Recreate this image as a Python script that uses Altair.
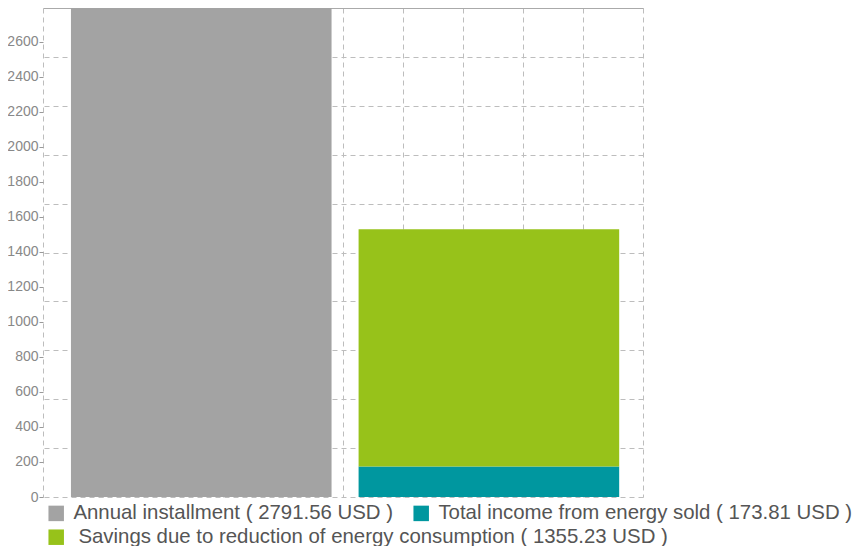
import altair as alt
import pandas as pd

# --- data ---
bars = ["Cost", "Benefit", "Benefit"]
series = ["Annual installment", "Total income from energy sold",
          "Savings due to reduction of energy consumption"]
values = [2791.56, 173.81, 1355.23]
stack_order = [0, 0, 1]
legend_row = [1, 1, 2]
colors = ["#a3a3a3", "#00979f", "#97c21a"]
y_ticks = list(range(0, 2800, 200))

labels = [f"{s} ( {v:.2f} USD )" for s, v in zip(series, values)]
df = pd.DataFrame({"bar": bars, "label": labels, "value": values,
                   "order": stack_order, "row": legend_row})
ymax = max(values[0], values[1] + values[2])

grid_df = pd.DataFrame({"gx": [0], "gy": [0]})
grid_vals = list(range(0, 11))
grid_color = "#bdbdbd"
dash = [5, 4]

grid = alt.Chart(grid_df).mark_point(opacity=0).encode(
    x=alt.X("gx:Q", scale=alt.Scale(domain=[0, 10], nice=False),
            axis=alt.Axis(orient="bottom", values=grid_vals, labels=False, ticks=False,
                          domain=False, title=None, grid=True, gridColor=grid_color,
                          gridDash=dash, gridWidth=1)),
    y=alt.Y("gy:Q", scale=alt.Scale(domain=[0, 10], nice=False),
            axis=alt.Axis(orient="right", values=grid_vals, labels=False, ticks=False,
                          domain=False, title=None, grid=True, gridColor=grid_color,
                          gridDash=dash, gridWidth=1)),
)

base = alt.Chart(df).transform_stack(
    stack="value", groupby=["bar"], as_=["y0", "y1"], sort=[alt.SortField("order")]
)

xenc = alt.X("bar:N", sort=["Cost", "Benefit"],
             scale=alt.Scale(paddingInner=0.094, paddingOuter=0.09, align=0.54),
             axis=alt.Axis(labels=False, ticks=False, title=None, domain=True,
                           domainColor="#aaaaaa", grid=False))
yenc = alt.Y("y0:Q", scale=alt.Scale(domain=[0, ymax], nice=False),
             axis=alt.Axis(values=y_ticks, format="d", title=None, grid=False, domain=False,
                           tickSize=4, tickColor="#999999", labelColor="#888888",
                           labelFontSize=14, labelPadding=1, labelFont="Liberation Sans"))


def legend(y, offset):
    return alt.Legend(title=None, orient="none", legendX=3, legendY=y,
                      direction="horizontal", symbolType="square", symbolSize=240,
                      symbolStrokeWidth=0, labelFontSize=20.4, labelFont="Liberation Sans",
                      labelColor="#555555", labelOffset=offset, columnPadding=17,
                      labelLimit=800)


layers = []
for r, ly, off in [(1, 495, 7), (2, 519, 12)]:
    lab = [l for l, rr in zip(labels, legend_row) if rr == r]
    col = [c for c, rr in zip(colors, legend_row) if rr == r]
    layers.append(
        base.transform_filter(alt.datum.row == r).mark_bar().encode(
            x=xenc, y=yenc, y2="y1:Q",
            color=alt.Color("label:N", scale=alt.Scale(domain=lab, range=col),
                            legend=legend(ly, off)),
        )
    )

barlayer = alt.layer(*layers).resolve_scale(color="independent")

chart = alt.layer(grid, barlayer).resolve_scale(x="independent", y="independent").properties(
    width=600, height=489,
    autosize=alt.AutoSizeParams(type="none"),
    padding={"left": 35, "top": 0, "right": 217, "bottom": 49},
).configure_view(stroke=None)

chart.save("out.html", embed_options={"renderer": "svg", "actions": False})
